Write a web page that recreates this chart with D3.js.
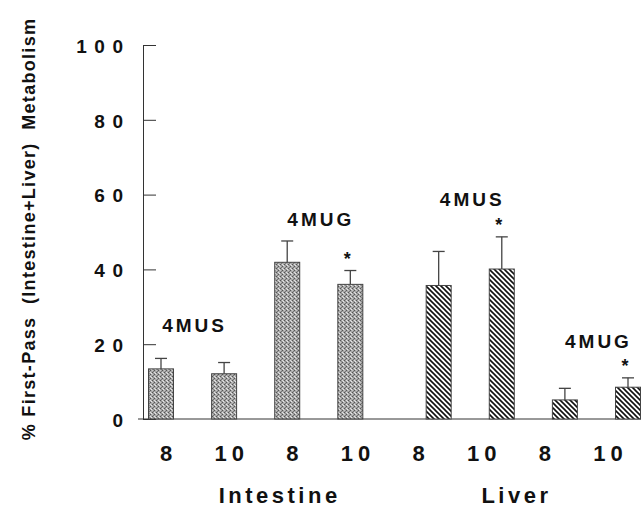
<!DOCTYPE html>
<html>
<head>
<meta charset="utf-8">
<script src="https://cdn.jsdelivr.net/npm/d3@7"></script>
<style>
  body { margin: 0; background: #fff; }
  text { font-family: "Liberation Sans", Arial, Helvetica, sans-serif; font-weight: bold; fill: #111; }
</style>
</head>
<body>
<div id="chart"></div>
<script>
// bar data, left to right
var organs = ['Intestine', 'Intestine', 'Intestine', 'Intestine', 'Liver', 'Liver', 'Liver', 'Liver'];
var barLabels = ['8', '10', '8', '10', '8', '10', '8', '10'];
var means = [13.4, 12.1, 41.9, 36.0, 35.7, 40.1, 5.1, 8.5];
var errors = [2.8, 3.0, 5.7, 3.7, 9.1, 8.6, 3.1, 2.5];
var significant = [false, false, false, true, false, true, false, true];

// compound labels above each pair of bars (value = height in % units)
var compounds = ['4MUS', '4MUG', '4MUS', '4MUG'];
var compoundLevel = [25.0, 53.5, 58.8, 20.9];

var groups = ['Intestine', 'Liver'];
var yTicks = [0, 20, 40, 60, 80, 100];

var width = 641, height = 509;

var svg = d3.select('#chart').append('svg')
    .attr('width', width)
    .attr('height', height);

// patterns
var defs = svg.append('defs');

var dots = defs.append('pattern')
    .attr('id', 'dots')
    .attr('patternUnits', 'userSpaceOnUse')
    .attr('width', 4).attr('height', 4);
dots.append('rect').attr('width', 4).attr('height', 4).attr('fill', '#a6a6a6');
[[0, 0, '#555'], [2, 2, '#555'], [2, 0, '#e0e0e0'], [0, 2, '#c8c8c8'], [1, 3, '#777'], [3, 1, '#e8e8e8'], [1, 1, '#888']].forEach(function(p){
    dots.append('rect').attr('x', p[0]).attr('y', p[1]).attr('width', 1).attr('height', 1).attr('fill', p[2]);
});

var hatch = defs.append('pattern')
    .attr('id', 'hatch')
    .attr('patternUnits', 'userSpaceOnUse')
    .attr('width', 5).attr('height', 5);
hatch.append('rect').attr('width', 5).attr('height', 5).attr('fill', '#fff');
hatch.append('path')
    .attr('d', 'M-1,-1 L6,6 M-1,4 L1,6 M4,-1 L6,1')
    .attr('stroke', '#111')
    .attr('stroke-width', 1.6);

// scales
var y = d3.scaleLinear().domain([0, 100]).range([419, 45]);

// bar centres: a small gap between the two organs
var slot = means.map(function(d, i){ return i + (organs[i] === 'Liver' ? 0.4 : 0); });
var x = d3.scaleLinear().domain([0, 7.4]).range([161, 628]);
var barW = 25;

// category labels are spaced evenly
var xl = d3.scaleLinear().domain([0, 7]).range([166, 608]);
var groupPos = [1.8, 5.55];

// y axis
var axis = svg.append('g')
    .attr('transform', 'translate(143,0)')
    .call(d3.axisRight(y).tickValues(yTicks).tickSize(13).tickSizeOuter(0).tickFormat(''));
axis.select('.domain').attr('stroke', '#333');
axis.selectAll('.tick line').attr('stroke', '#333');

svg.append('g').selectAll('text')
    .data(yTicks)
    .enter().append('text')
        .attr('x', 123)
        .attr('dx', 7.5)
        .attr('y', function(d){ return y(d) + 1; })
        .attr('dy', '0.36em')
        .attr('text-anchor', 'end')
        .attr('font-size', 19)
        .attr('letter-spacing', 7.5)
        .text(function(d){ return d; });

// baseline
svg.append('line')
    .attr('x1', 138).attr('x2', width)
    .attr('y1', y(0)).attr('y2', y(0))
    .attr('stroke', '#333');

// bars
svg.append('g').selectAll('rect')
    .data(means)
    .enter().append('rect')
        .attr('x', function(d, i){ return x(slot[i]) - barW / 2; })
        .attr('y', function(d){ return y(d); })
        .attr('width', barW)
        .attr('height', function(d){ return y(0) - y(d); })
        .attr('fill', function(d, i){ return organs[i] === 'Liver' ? 'url(#hatch)' : 'url(#dots)'; })
        .attr('stroke', '#444')
        .attr('stroke-width', 1);

// error bars
var err = svg.append('g').attr('stroke', '#444').attr('stroke-width', 1.3);
err.selectAll('.stem')
    .data(means)
    .enter().append('line')
        .attr('class', 'stem')
        .attr('x1', function(d, i){ return x(slot[i]); })
        .attr('x2', function(d, i){ return x(slot[i]); })
        .attr('y1', function(d){ return y(d); })
        .attr('y2', function(d, i){ return y(d + errors[i]); });
err.selectAll('.cap')
    .data(means)
    .enter().append('line')
        .attr('class', 'cap')
        .attr('x1', function(d, i){ return x(slot[i]) - 6; })
        .attr('x2', function(d, i){ return x(slot[i]) + 6; })
        .attr('y1', function(d, i){ return y(d + errors[i]); })
        .attr('y2', function(d, i){ return y(d + errors[i]); });

// significance stars
svg.append('g').selectAll('text')
    .data(means.map(function(d, i){ return i; }).filter(function(i){ return significant[i]; }))
    .enter().append('text')
        .attr('x', function(i){ return x(slot[i]) - 3; })
        .attr('y', function(i){ return y(means[i] + errors[i]) - 6; })
        .attr('text-anchor', 'middle')
        .attr('font-size', 18)
        .text('*');

// compound labels
svg.append('g').selectAll('text')
    .data(compounds)
    .enter().append('text')
        .attr('x', function(d, k){ return (x(slot[2 * k]) + x(slot[2 * k + 1])) / 2 + 2; })
        .attr('y', function(d, k){ return y(compoundLevel[k]); })
        .attr('dy', '0.36em')
        .attr('text-anchor', 'middle')
        .attr('font-size', 19)
        .attr('letter-spacing', 3)
        .text(function(d){ return d; });

// x category labels
svg.append('g').selectAll('text')
    .data(barLabels)
    .enter().append('text')
        .attr('x', function(d, i){ return xl(i); })
        .attr('dx', function(d){ return d.length > 1 ? 2.5 : 0; })
        .attr('y', 453)
        .attr('dy', '0.36em')
        .attr('text-anchor', 'middle')
        .attr('font-size', 22)
        .attr('letter-spacing', function(d){ return d.length > 1 ? 5 : 0; })
        .text(function(d){ return d; });

// organ group labels
svg.append('g').selectAll('text')
    .data(groups)
    .enter().append('text')
        .attr('x', function(d, i){ return xl(groupPos[i]); })
        .attr('y', 503)
        .attr('text-anchor', 'middle')
        .attr('font-size', 22)
        .attr('letter-spacing', 3.5)
        .text(function(d){ return d; });

// y axis title
svg.append('text')
    .attr('transform', 'translate(29,229) rotate(-90)')
    .attr('text-anchor', 'middle')
    .attr('dy', '0.36em')
    .attr('font-size', 18)
    .attr('letter-spacing', 1.3)
    .style('white-space', 'pre')
    .text('% First-Pass  (Intestine+Liver)  Metabolism');
</script>
</body>
</html>
